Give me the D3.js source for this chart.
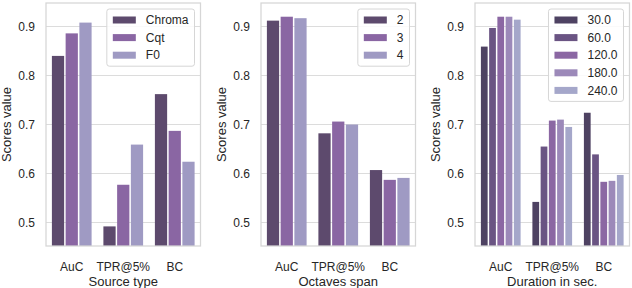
<!DOCTYPE html>
<html>
<head>
<meta charset="utf-8">
<title>Scores by source, octaves, duration</title>
<script src="https://d3js.org/d3.v7.min.js"></script>
<style>
  body { margin: 0; background: #fff; }
  text { font-family: "Liberation Sans", Arial, sans-serif; fill: #262626; }
</style>
</head>
<body>
<script>

// data
var metrics = ["AuC", "TPR@5%", "BC"];
var yTicks = [0.5, 0.6, 0.7, 0.8, 0.9];

var sourceTypes = ["Chroma", "Cqt", "F0"];
var sourceScores = [
    [0.840, 0.492, 0.762],
    [0.886, 0.577, 0.687],
    [0.908, 0.659, 0.624]
];

var octaves = ["2", "3", "4"];
var octaveScores = [
    [0.912, 0.682, 0.607],
    [0.920, 0.706, 0.587],
    [0.917, 0.700, 0.591]
];

var durations = ["30.0", "60.0", "120.0", "180.0", "240.0"];
var durationScores = [
    [0.859, 0.542, 0.724],
    [0.897, 0.655, 0.639],
    [0.920, 0.708, 0.583],
    [0.920, 0.710, 0.585],
    [0.914, 0.695, 0.597]
];

var panels = [
    { left: 46, xlabel: "Source type", names: sourceTypes, scores: sourceScores,
      colors: ["#5d4a6d", "#8a66a3", "#9f9ac3"] },
    { left: 261, xlabel: "Octaves span", names: octaves, scores: octaveScores,
      colors: ["#5d4a6d", "#8a66a3", "#9f9ac3"] },
    { left: 475, xlabel: "Duration in sec.", names: durations, scores: durationScores,
      colors: ["#4e4262", "#6a5483", "#8b67a3", "#9c89b9", "#a5a7ca"] }
];

var plotTop = 3, plotBottom = 246, pw = 154.5;

var svg = d3.select("body").append("svg")
    .attr("width", 632)
    .attr("height", 288);

var y = d3.scaleLinear()
    .domain([0.452, 0.948])
    .range([plotBottom, plotTop]);

panels.forEach(function(p) {
    var g = svg.append("g")
        .attr("transform", "translate(" + p.left + ",0)");

    var x = d3.scaleBand()
        .domain(metrics)
        .range([0, pw])
        .padding(0);

    var hue = d3.scaleBand()
        .domain(p.names)
        .range([x.bandwidth() * 0.1, x.bandwidth() * 0.9]);

    // grid
    g.selectAll(".grid")
        .data(yTicks)
        .enter().append("line")
        .attr("x1", 0).attr("x2", pw)
        .attr("y1", d => y(d)).attr("y2", d => y(d))
        .attr("stroke", "#dcdcdc")
        .attr("stroke-width", 1.1);

    // bars
    p.names.forEach(function(name, si) {
        g.selectAll(".bar" + si)
            .data(p.scores[si])
            .enter().append("rect")
            .attr("x", (d, i) => x(metrics[i]) + hue(name) + 0.75)
            .attr("width", hue.bandwidth() - 1.5)
            .attr("y", d => y(d))
            .attr("height", d => plotBottom - y(d))
            .attr("fill", p.colors[si]);
    });

    // frame
    g.append("rect")
        .attr("x", 0).attr("y", plotTop)
        .attr("width", pw).attr("height", plotBottom - plotTop)
        .attr("fill", "none")
        .attr("stroke", "#d6d6d6")
        .attr("stroke-width", 1.25);

    // y tick labels
    g.selectAll(".ytick")
        .data(yTicks)
        .enter().append("text")
        .attr("x", -11)
        .attr("y", d => y(d))
        .attr("dy", "0.35em")
        .attr("text-anchor", "end")
        .style("font-size", "12px")
        .text(d => d3.format(".1f")(d));

    // x tick labels
    g.selectAll(".xtick")
        .data(metrics)
        .enter().append("text")
        .attr("x", d => x(d) + x.bandwidth() / 2)
        .attr("y", 270.5)
        .attr("text-anchor", "middle")
        .style("font-size", "12px")
        .text(d => d);

    g.append("text")
        .attr("x", pw / 2)
        .attr("y", 285.5)
        .attr("text-anchor", "middle")
        .style("font-size", "13px")
        .text(p.xlabel);

    g.append("text")
        .attr("transform", "translate(-35," + ((plotTop + plotBottom) / 2) + ") rotate(-90)")
        .attr("text-anchor", "middle")
        .style("font-size", "13px")
        .text("Scores value");

    // legend
    var leg = g.append("g");
    var box = leg.append("rect")
        .attr("fill", "white")
        .attr("fill-opacity", 0.85)
        .attr("stroke", "#d6d6d6")
        .attr("stroke-width", 1)
        .attr("rx", 2.5);
    var rowH = 17.6, patchW = 23, padX = 6;
    var items = leg.selectAll(".item")
        .data(p.names)
        .enter().append("g")
        .attr("transform", (d, i) => "translate(0," + (i * rowH) + ")");
    items.append("rect")
        .attr("x", padX).attr("y", -3.5)
        .attr("width", patchW).attr("height", 7)
        .attr("fill", (d, i) => p.colors[i]);
    var labels = items.append("text")
        .attr("x", padX + patchW + 10)
        .attr("dy", "0.35em")
        .style("font-size", "12px")
        .text(d => d);
    var maxW = d3.max(labels.nodes(), n => n.getComputedTextLength());
    var lw = padX + patchW + 10 + maxW + 6;
    var lh = (p.names.length - 1) * rowH + 22;
    box.attr("x", 0).attr("y", -11).attr("width", lw).attr("height", lh);
    leg.attr("transform", "translate(" + (pw - 6 - lw) + "," + (plotTop + 6 + 11) + ")");
});

</script>
</body>
</html>
